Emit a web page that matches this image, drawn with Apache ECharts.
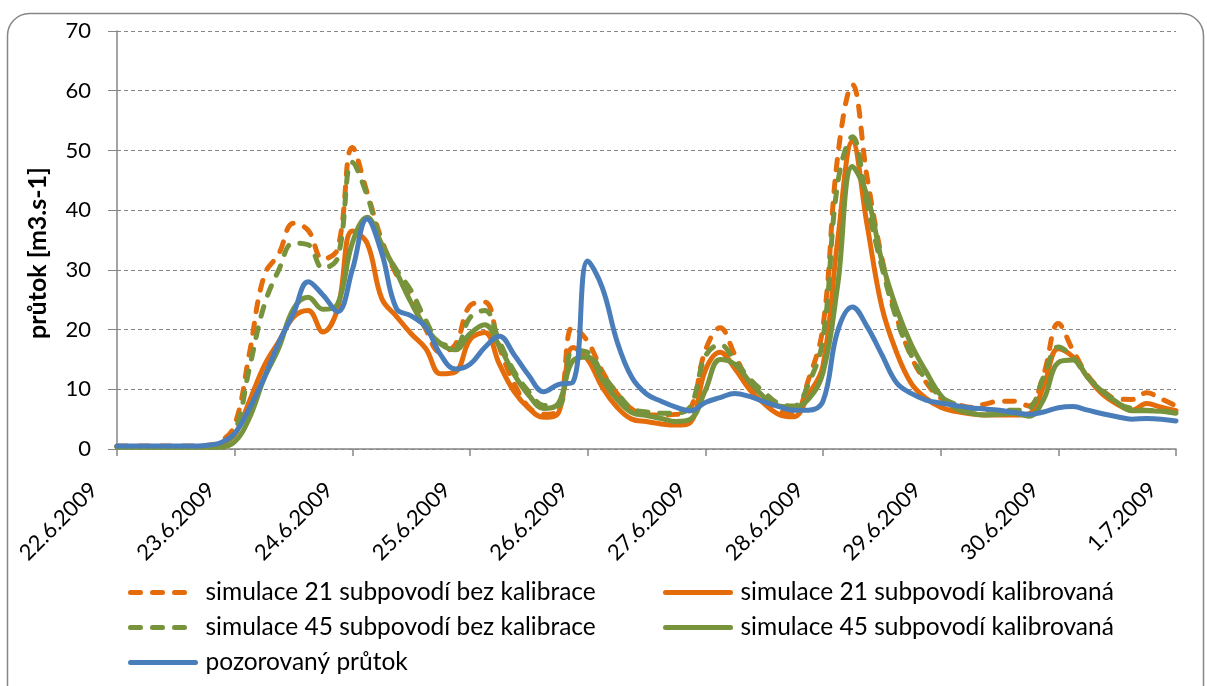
<!DOCTYPE html>
<html>
<head>
<meta charset="utf-8">
<script src="https://cdn.jsdelivr.net/npm/echarts@6/dist/echarts.min.js"></script>
<style>
  html, body { margin: 0; padding: 0; background: #fff; }
  #chart { width: 1207px; height: 686px; }
</style>
</head>
<body>
<div id="chart"></div>
<script>
// Hydrograph 22.6.2009 – 1.7.2009, values every 3 hours (m3/s)
const stepHours = 3;
const dayLabels = ['22.6.2009', '23.6.2009', '24.6.2009', '25.6.2009', '26.6.2009',
                   '27.6.2009', '28.6.2009', '29.6.2009', '30.6.2009', '1.7.2009'];
const yTitle = 'průtok [m3.s-1]';

const sim21Raw = [
  0.5, 0.5, 0.5, 0.5, 0.5, 0.5,
  0.6, 1.2, 4.0, 16.0, 29.0, 32.7,
  37.8, 36.6, 31.8, 33.5, 50.5, 43.0,
  35.0, 29.2, 25.2, 20.0, 16.2, 17.5,
  24.0, 24.6, 17.0, 11.0, 7.0, 5.8,
  6.5, 20.5, 18.0, 13.0, 9.3, 6.7,
  5.8, 5.7, 5.8, 6.8, 16.5, 20.3,
  15.8, 11.0, 8.5, 6.5, 5.8, 11.5,
  20.5, 49.0, 61.0, 45.5, 32.0, 22.2,
  15.5, 11.2, 8.5, 7.6, 7.0, 7.5,
  8.0, 8.0, 7.2, 12.5, 21.0, 16.5,
  12.3, 9.8, 8.4, 8.3, 9.4, 8.4,
  7.2
];

const sim21Cal = [
  0.4, 0.4, 0.4, 0.4, 0.4, 0.4,
  0.4, 0.8, 2.4, 8.0, 13.9, 18.0,
  22.1, 23.2, 19.6, 23.5, 36.5, 34.5,
  25.2, 22.2, 19.3, 16.8, 12.6, 12.9,
  18.3, 19.5, 14.2, 9.6, 6.8, 5.3,
  6.0, 17.0, 15.0, 10.3, 7.0, 5.0,
  4.6, 4.2, 4.0, 4.5, 13.2, 16.2,
  13.5, 10.0, 7.6, 5.8, 5.4, 9.0,
  14.0, 35.0, 51.5, 37.5, 23.8, 16.2,
  11.0, 8.5, 7.0, 6.3, 5.9, 5.7,
  5.7, 5.7, 5.9, 10.5, 16.8, 15.4,
  12.0, 9.2, 7.5, 6.5, 7.6, 7.0,
  6.4
];

const sim45Raw = [
  0.4, 0.4, 0.4, 0.4, 0.4, 0.4,
  0.4, 0.8, 2.8, 13.5, 24.0, 30.0,
  34.5, 34.2, 30.3, 32.0, 48.0, 42.5,
  34.5, 30.0, 26.5, 21.5, 17.7, 17.3,
  22.0, 23.2, 18.0, 13.0, 9.6, 7.3,
  7.2, 16.5, 16.2, 12.6, 9.4, 6.8,
  6.2, 6.0, 6.0, 7.2, 15.5, 17.5,
  14.8, 11.8, 9.5, 7.6, 7.2, 10.8,
  18.5, 44.5, 52.3, 41.0, 30.5, 21.8,
  15.7, 11.6, 8.8, 7.5, 6.8, 6.6,
  6.5, 6.5, 6.8, 12.1, 17.1, 15.3,
  12.0, 9.8, 7.7, 6.8, 6.5, 6.4,
  6.0
];

const sim45Cal = [
  0.3, 0.3, 0.3, 0.3, 0.3, 0.3,
  0.3, 0.3, 1.2, 5.2, 11.8, 16.9,
  23.5, 25.4, 23.4, 24.3, 34.5, 38.8,
  34.3, 29.6, 24.5, 20.3, 17.6, 16.6,
  19.3, 20.8, 17.2, 12.5, 9.0, 6.8,
  7.6, 14.8, 15.4, 11.6, 8.3, 6.1,
  5.6, 5.1, 4.6, 5.0, 9.8, 15.0,
  14.2, 11.3, 8.7, 7.2, 7.0, 8.3,
  12.8, 27.5, 47.3, 42.5, 31.5, 23.5,
  17.5, 13.0, 9.0, 6.8, 6.0, 5.7,
  5.8, 6.0, 5.5, 8.3, 14.5, 14.9,
  12.0, 9.6, 7.8, 6.4, 6.4, 6.3,
  6.0
];

const observed = [
  0.5, 0.5, 0.5, 0.5, 0.5, 0.5,
  0.6, 1.0, 2.6, 6.8, 11.9, 17.8,
  22.7, 28.0, 25.8, 23.0, 30.0, 38.5,
  32.8, 23.5, 22.3, 20.4, 15.8, 13.4,
  14.2, 17.0, 18.9, 15.8, 12.3, 9.6,
  10.8, 11.2, 31.5, 27.0, 18.0, 12.0,
  9.2, 8.0, 7.0, 6.4, 7.8, 8.6,
  9.3, 8.8, 7.9, 7.1, 6.5, 6.5,
  8.0, 19.8, 23.8, 20.5, 15.8, 11.1,
  9.3, 8.2, 7.7, 7.3, 6.9, 6.7,
  6.5, 6.1, 5.8, 6.2, 6.9, 7.1,
  6.5, 5.9, 5.4, 5.0, 5.1, 5.0,
  4.7
];

const seriesNames = [
  'simulace 21 subpovodí bez kalibrace',
  'simulace 21 subpovodí kalibrovaná',
  'simulace 45 subpovodí bez kalibrace',
  'simulace 45 subpovodí kalibrovaná',
  'pozorovaný průtok'
];

const ORANGE = '#E46C0A';
const GREEN = '#77933C';
const BLUE = '#4A7EBB';
const AXIS_GREY = '#868686';
const FONT = 'Lato';
const LINE_W = 5;
const DASH = [10, 12];

// x position in days since 22.6.2009 00:00
function toPairs(values) {
  return values.map((v, i) => [i * stepHours / 24, v]);
}

function lineSeries(name, values, color, dashed, z) {
  return {
    name: name,
    type: 'line',
    data: toPairs(values),
    smooth: 0.4,
    showSymbol: false,
    symbol: 'none',
    z: z,
    lineStyle: {
      color: color,
      width: LINE_W,
      type: dashed ? DASH : 'solid',
      cap: 'round',
      join: 'round'
    },
    itemStyle: { color: color },
    emphasis: { disabled: true }
  };
}

const chart = echarts.init(document.getElementById('chart'), null, { renderer: 'canvas' });

const legendCommon = {
  orient: 'vertical',
  itemWidth: 65,
  itemHeight: 14,
  itemGap: 10,
  lineStyle: { width: LINE_W, cap: 'round' },
  itemStyle: { opacity: 0 },
  textStyle: { fontFamily: FONT, fontSize: 24.5, color: '#000', padding: [0, 0, 0, 5] },
  selectedMode: false
};

chart.setOption({
  animation: false,
  backgroundColor: '#fff',
  textStyle: { fontFamily: FONT },
  graphic: [{
    type: 'rect',
    shape: { x: 7.5, y: 13.5, width: 1196, height: 720, r: 22 },
    style: { fill: 'none', stroke: AXIS_GREY, lineWidth: 1.5 },
    z: -10,
    silent: true
  }, {
    type: 'text',
    x: 38,
    y: 253,
    rotation: Math.PI / 2,
    style: {
      text: yTitle,
      fontFamily: FONT,
      fontSize: 25,
      fontWeight: 'bold',
      fill: '#000',
      align: 'center',
      verticalAlign: 'middle'
    },
    silent: true
  }],
  grid: { left: 117, right: 31, top: 31, bottom: 237, containLabel: false },
  legend: [
    Object.assign({}, legendCommon, {
      left: 123, top: 575,
      data: [seriesNames[0], seriesNames[2], seriesNames[4]]
    }),
    Object.assign({}, legendCommon, {
      left: 658, top: 575,
      data: [seriesNames[1], seriesNames[3]]
    })
  ],
  xAxis: {
    type: 'value',
    min: 0,
    max: 9,
    interval: 1,
    axisLine: { show: true, lineStyle: { color: AXIS_GREY, width: 1.5 } },
    axisTick: { show: true, length: 7, inside: false, lineStyle: { color: AXIS_GREY, width: 1.5 } },
    splitLine: { show: false },
    axisLabel: {
      rotate: 45,
      margin: 14,
      padding: [0, 33, 0, 0],
      fontFamily: FONT,
      fontSize: 22,
      color: '#000',
      formatter: v => dayLabels[Math.round(v)]
    }
  },
  yAxis: {
    type: 'value',
    min: 0,
    max: 70,
    interval: 10,
    axisLine: { show: true, lineStyle: { color: AXIS_GREY, width: 1.5 } },
    axisTick: { show: true, length: 9, lineStyle: { color: AXIS_GREY, width: 1 } },
    splitLine: { show: true, lineStyle: { color: AXIS_GREY, width: 1.2, type: [4, 3] } },
    axisLabel: { margin: 26, fontFamily: FONT, fontSize: 22, color: '#000' }
  },
  series: [
    lineSeries(seriesNames[0], sim21Raw, ORANGE, true, 2),
    lineSeries(seriesNames[1], sim21Cal, ORANGE, false, 3),
    lineSeries(seriesNames[2], sim45Raw, GREEN, true, 4),
    lineSeries(seriesNames[3], sim45Cal, GREEN, false, 5),
    lineSeries(seriesNames[4], observed, BLUE, false, 6)
  ]
});
</script>
</body>
</html>
